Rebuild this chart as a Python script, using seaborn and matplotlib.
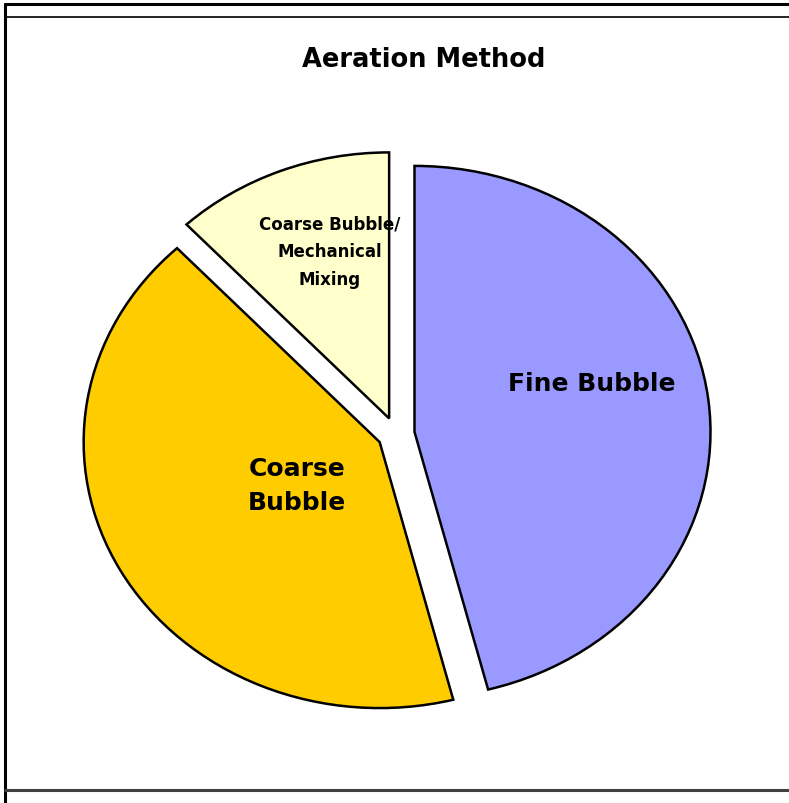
# Import libraries
import matplotlib
matplotlib.use('Agg')
import matplotlib.pyplot as plt
import seaborn as sns
from matplotlib.lines import Line2D

# Chart data
methods = ['Fine Bubble', 'Coarse Bubble', 'Coarse Bubble/\nMechanical\nMixing']
shares = [46, 42, 12]
slice_colors = ['#9999FF', '#FFCC00', '#FFFFCC']
explode = [0.063, 0.063, 0.063]
title = 'Aeration Method'

# Label placement (data coords) and sizes
label_pos = [(0.662, 0.192), (-0.334, -0.192), (-0.223, 0.688)]
label_text = ['Fine Bubble', 'Coarse\nBubble', 'Coarse Bubble/\nMechanical\nMixing']
label_size = [18, 18, 12]
label_spacing = [1.2, 1.55, 1.7]

sns.set_style('white')
palette = sns.color_palette(slice_colors)

fig = plt.figure(figsize=(7.89, 8.04), dpi=100)

# Axes sized so the pie comes out a little wider than tall, like the original
W, H = 789, 804
cx, cy = 396, 435
rx, ry = 296, 266
lim = 1.3
ax = fig.add_axes([(cx - lim * rx) / W, (H - cy - lim * ry) / H,
                   2 * lim * rx / W, 2 * lim * ry / H])

ax.pie(shares, colors=palette, explode=explode, startangle=90,
       counterclock=False,
       wedgeprops=dict(edgecolor='black', linewidth=1.8))
ax.set_aspect('auto')
ax.set_xlim(-lim, lim)
ax.set_ylim(-lim, lim)
ax.axis('off')

# Slice labels
for (x, y), txt, size, sp in zip(label_pos, label_text, label_size, label_spacing):
    ax.text(x, y, txt, ha='center', va='center', multialignment='center',
            fontsize=size, fontweight='bold', linespacing=sp, color='black')

# Title
fig.text(423.5 / W, 1 - 60 / H, title, ha='center', va='center',
         fontsize=18.5, fontweight='bold', color='black')

# Frame lines of the original chart area
fig.add_artist(Line2D([5 / W, 1], [1 - 5 / H, 1 - 5 / H], color='black', lw=2.2))
fig.add_artist(Line2D([5 / W, 1], [1 - 18 / H, 1 - 18 / H], color='black', lw=1.2))
fig.add_artist(Line2D([5 / W, 5 / W], [0, 1 - 5 / H], color='black', lw=2.2))
fig.add_artist(Line2D([5 / W, 1], [1 - 791 / H, 1 - 791 / H], color='#404040', lw=2.2))

fig.savefig('out.png', dpi=100, facecolor='white')
